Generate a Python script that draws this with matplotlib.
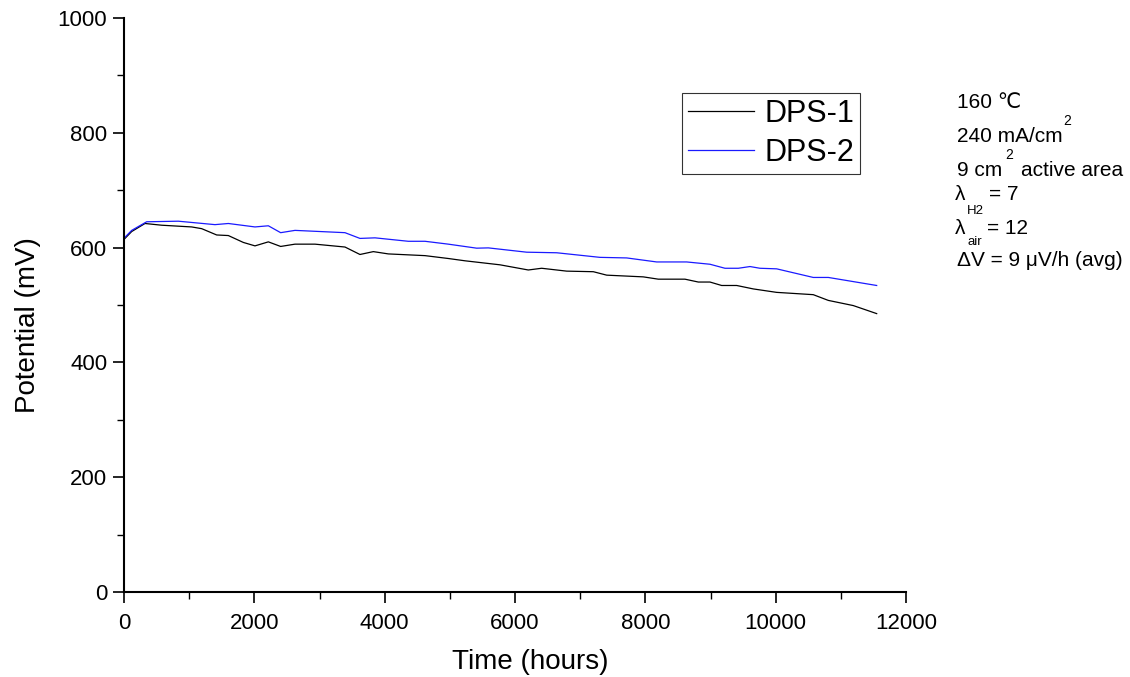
import numpy as np
import matplotlib.pyplot as plt
from matplotlib.ticker import MultipleLocator

plt.rcParams['font.family'] = ['Liberation Sans', 'DejaVu Sans']

# Cell potential over time for the two stacks
t_dps1 = [15, 118, 322, 578, 1038, 1192, 1422, 1601, 1831, 2010, 2215, 2404, 2624,
          2931, 3391, 3621, 3826, 4056, 4619, 4977, 5233, 5770, 6204, 6409, 6793,
          7202, 7407, 7969, 8199, 8608, 8813, 8992, 9171, 9402, 9657, 10015, 10577,
          10808, 11191, 11550]
v_dps1 = [616, 628, 642, 639, 636, 633, 622, 621, 609, 603, 610, 602, 606,
          606, 601, 588, 593, 589, 586, 581, 577, 570, 561, 564, 559,
          558, 552, 549, 545, 545, 540, 540, 534, 534, 528, 522, 518,
          508, 499, 485]

t_dps2 = [15, 118, 348, 834, 1396, 1601, 2010, 2215, 2404, 2624, 3391, 3621, 3851,
          4363, 4619, 4977, 5412, 5591, 6179, 6640, 7304, 7714, 8174, 8634, 8992,
          9222, 9427, 9606, 9759, 10015, 10577, 10808, 11550]
v_dps2 = [618, 630, 645, 646, 640, 642, 636, 638, 626, 630, 626, 616, 617,
          611, 611, 606, 599, 599.5, 592, 591, 583, 582, 575, 575, 571,
          564, 564, 567, 564, 563, 548, 548, 534]

W, H = 1130, 677
fig = plt.figure(figsize=(W / 100, H / 100), dpi=100)
ax = fig.add_axes([124 / W, 1 - 592 / H, (906 - 124) / W, (592 - 18) / H])

ax.plot(t_dps1, v_dps1, color='black', lw=0.9, label='DPS-1')
ax.plot(t_dps2, v_dps2, color='#1a1aff', lw=0.9, label='DPS-2')

ax.set_xlim(0, 12000)
ax.set_ylim(0, 1000)
ax.xaxis.set_major_locator(MultipleLocator(2000))
ax.xaxis.set_minor_locator(MultipleLocator(1000))
ax.yaxis.set_major_locator(MultipleLocator(200))
ax.yaxis.set_minor_locator(MultipleLocator(100))
ax.tick_params(which='major', direction='out', length=8, width=1.2, labelsize=16)
ax.tick_params(axis='x', which='major', pad=7)
ax.tick_params(axis='y', which='major', pad=4)
ax.tick_params(which='minor', direction='out', length=5, width=1.0)
for side in ('top', 'right'):
    ax.spines[side].set_visible(False)
for side in ('left', 'bottom'):
    ax.spines[side].set_linewidth(1.5)

ax.set_xlabel('Time (hours)', fontsize=20, labelpad=11)
ax.set_ylabel('Potential (mV)', fontsize=20, labelpad=12)
ax.xaxis.label.set_x(0.52)
ax.yaxis.label.set_y(0.465)

leg = ax.legend(loc='upper left', bbox_to_anchor=((682 - 124) / 782, (592 - 93) / 574),
                fontsize=22, frameon=True, fancybox=False, handlelength=2.15,
                borderpad=0.2, labelspacing=0.28, handletextpad=0.35,
                borderaxespad=0)
leg.get_frame().set_edgecolor('black')
leg.get_frame().set_linewidth(0.8)


def ftext(x, y, s, size=15):
    fig.text(x / W, 1 - y / H, s, fontsize=size, va='center', ha='left')


ftext(957, 103, '160 \u2103')
ftext(957, 137, '240 mA/cm')
ftext(1063, 121, '2', size=10)
ftext(957, 170, '9 cm')
ftext(1005, 155, '2', size=10)
ftext(1021, 170, 'active area')
ftext(955, 195, '\u03bb')
ftext(967, 211, 'H2', size=9.5)
ftext(989, 195, '= 7')
ftext(955, 229, '\u03bb')
ftext(968, 242, 'air', size=9.5)
ftext(987, 229, '= 12')
ftext(957, 261, '\u0394V = 9 \u03bcV/h (avg)')

fig.savefig('out.png', dpi=100)
